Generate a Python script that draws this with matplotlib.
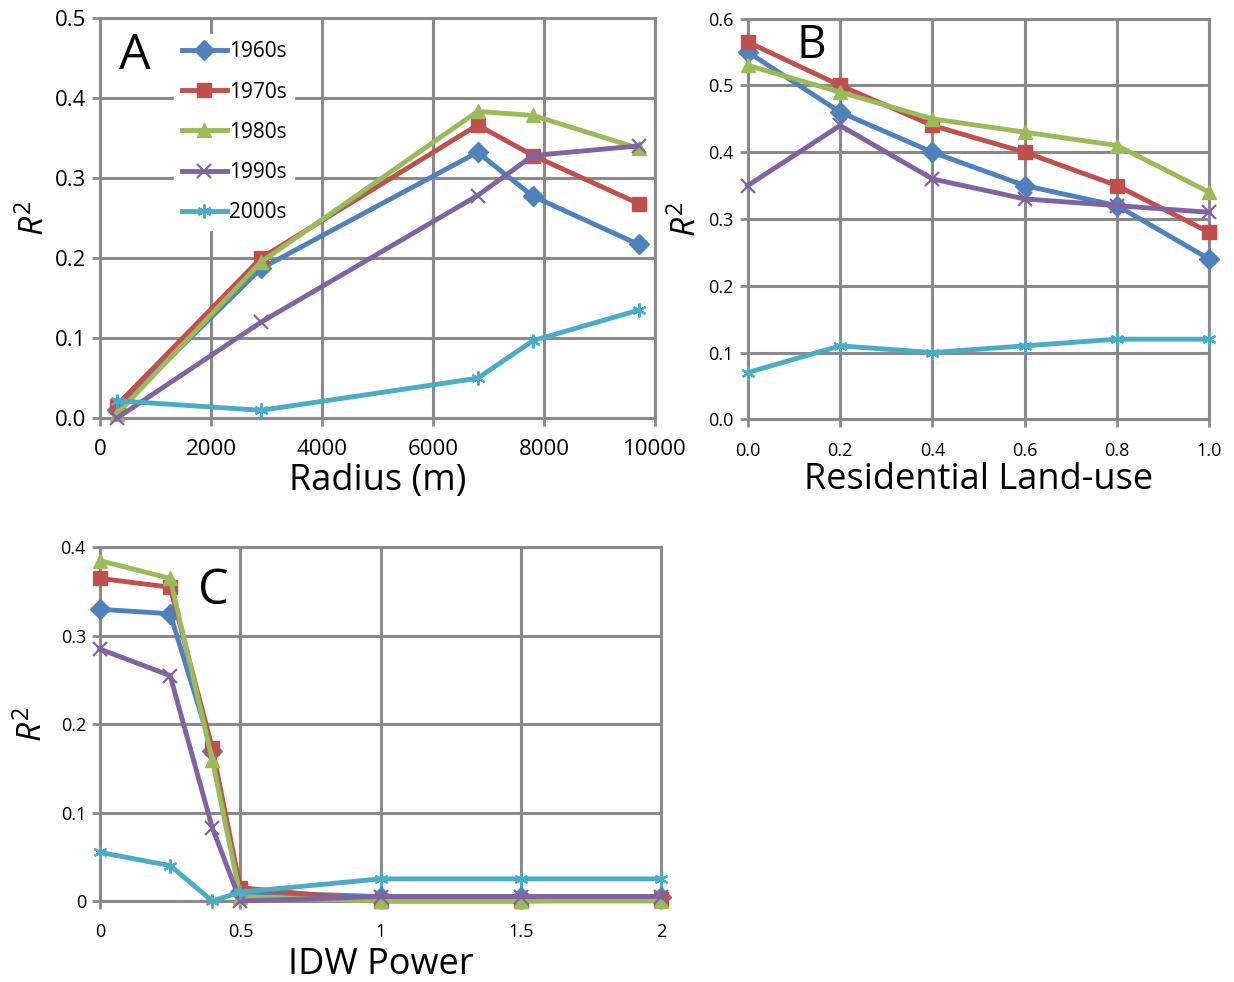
import matplotlib
matplotlib.use("Agg")
import matplotlib.pyplot as plt
import numpy as np

plt.rcParams["font.family"] = ["Open Sans", "DejaVu Sans"]
plt.rcParams["mathtext.fontset"] = "custom"
plt.rcParams["mathtext.rm"] = "Open Sans"
plt.rcParams["mathtext.it"] = "Open Sans:italic"

decades = ["1960s", "1970s", "1980s", "1990s", "2000s"]
colors = ["#4F81BD", "#C0504D", "#9BBB59", "#8064A2", "#4BACC6"]
markers = ["D", "s", "^", "x", (6, 2, 0)]

# A: search radius
radius = [300, 2900, 6800, 7800, 9700]
r2_radius = {
    "1960s": [0.010, 0.187, 0.332, 0.277, 0.217],
    "1970s": [0.016, 0.200, 0.366, 0.328, 0.268],
    "1980s": [0.005, 0.195, 0.383, 0.378, 0.337],
    "1990s": [0.000, 0.120, 0.278, 0.328, 0.340],
    "2000s": [0.022, 0.010, 0.050, 0.097, 0.135],
}

# B: residential land-use share
landuse = [0.0, 0.2, 0.4, 0.6, 0.8, 1.0]
r2_landuse = {
    "1960s": [0.550, 0.460, 0.400, 0.350, 0.320, 0.240],
    "1970s": [0.565, 0.500, 0.440, 0.400, 0.350, 0.280],
    "1980s": [0.530, 0.490, 0.450, 0.430, 0.410, 0.340],
    "1990s": [0.350, 0.440, 0.360, 0.330, 0.320, 0.310],
    "2000s": [0.070, 0.110, 0.100, 0.110, 0.120, 0.120],
}

# C: inverse distance weighting power
idw_power = [0.0, 0.25, 0.4, 0.5, 1.0, 1.5, 2.0]
r2_idw = {
    "1960s": [0.330, 0.325, 0.170, 0.010, 0.005, 0.005, 0.005],
    "1970s": [0.365, 0.355, 0.173, 0.015, 0.000, 0.000, 0.002],
    "1980s": [0.385, 0.365, 0.160, 0.005, 0.000, 0.000, 0.000],
    "1990s": [0.285, 0.255, 0.083, 0.000, 0.005, 0.005, 0.005],
    "2000s": [0.055, 0.040, 0.000, 0.010, 0.025, 0.025, 0.025],
}

GRID = "#8a8a8a"

fig = plt.figure(figsize=(12.34, 9.82), dpi=100)
axA = fig.add_axes([0.081, 0.574, 0.450, 0.408])
axB = fig.add_axes([0.606, 0.573, 0.374, 0.408])
axC = fig.add_axes([0.081, 0.0825, 0.455, 0.360])


def style(ax, tick_size):
    ax.grid(True, color=GRID, linewidth=2.2)
    ax.set_axisbelow(True)
    for s in ax.spines.values():
        s.set_color(GRID)
        s.set_linewidth(2.2)
    ax.tick_params(direction="out", length=6, width=2, color=GRID,
                   labelsize=tick_size, pad=4)


def draw(ax, xs, data):
    for name, c, m in zip(decades, colors, markers):
        mew = 1.6 if m in ("x", (6, 2, 0)) else 1
        ax.plot(xs, data[name], color=c, linewidth=3.5, marker=m,
                markersize=10, markeredgewidth=mew, label=name,
                clip_on=False, zorder=3)


# A
draw(axA, radius, r2_radius)
style(axA, 16)
axA.set_xlim(0, 10000)
axA.set_ylim(0, 0.5)
axA.set_xticks(np.arange(0, 10001, 2000))
axA.set_yticks(np.arange(0, 0.51, 0.1))
axA.set_yticklabels([f"{v:.1f}" for v in np.arange(0, 0.51, 0.1)])
axA.tick_params(axis="x", pad=9)
axA.set_xlabel("Radius (m)", fontsize=26, labelpad=2)
axA.set_ylabel(r"$R^2$", fontsize=24, labelpad=2)
axA.text(0.035, 0.965, "A", transform=axA.transAxes, fontsize=36, va="top")
leg = axA.legend(loc="upper left", bbox_to_anchor=(0.115, 0.985), fontsize=15,
                 handlelength=2.2, labelspacing=0.92, handletextpad=0.1,
                 borderpad=0.35, frameon=True, fancybox=False,
                 edgecolor="white", facecolor="white", framealpha=1)
leg.set_zorder(2)

# B
draw(axB, landuse, r2_landuse)
style(axB, 13)
axB.set_xlim(0, 1.0)
axB.set_ylim(0, 0.6)
axB.set_xticks(np.arange(0, 1.01, 0.2))
axB.set_xticklabels([f"{v:.1f}" for v in np.arange(0, 1.01, 0.2)])
axB.set_yticks(np.arange(0, 0.61, 0.1))
axB.set_yticklabels([f"{v:.1f}" for v in np.arange(0, 0.61, 0.1)])
axB.tick_params(axis="x", pad=10)
axB.set_xlabel("Residential Land-use", fontsize=26, labelpad=2)
axB.set_ylabel(r"$R^2$", fontsize=24, labelpad=3)
axB.text(0.106, 0.99, "B", transform=axB.transAxes, fontsize=33, va="top")

# C
draw(axC, idw_power, r2_idw)
style(axC, 13)
axC.set_xlim(0, 2)
axC.set_ylim(0, 0.4)
axC.set_xticks([0, 0.5, 1, 1.5, 2])
axC.set_xticklabels(["0", "0.5", "1", "1.5", "2"])
axC.set_yticks([0, 0.1, 0.2, 0.3, 0.4])
axC.set_yticklabels(["0", "0.1", "0.2", "0.3", "0.4"])
axC.tick_params(axis="x", pad=10)
axC.set_xlabel("IDW Power", fontsize=26, labelpad=4)
axC.set_ylabel(r"$R^2$", fontsize=24, labelpad=8)
axC.text(0.175, 0.945, "C", transform=axC.transAxes, fontsize=35, va="top")

fig.savefig("out.png", dpi=100, facecolor="white")
